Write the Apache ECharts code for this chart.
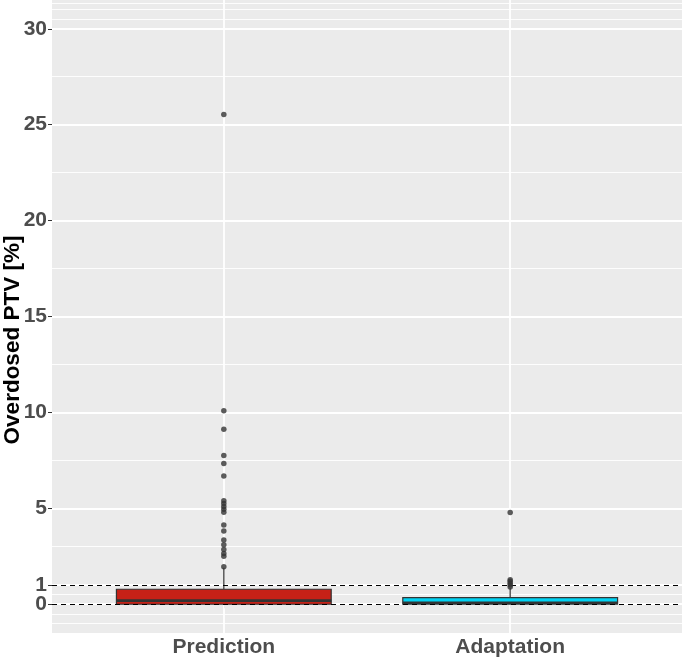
<!DOCTYPE html>
<html>
<head>
<meta charset="utf-8">
<script src="https://cdn.jsdelivr.net/npm/echarts@6/dist/echarts.min.js"></script>
<style>
html,body{margin:0;padding:0;background:#fff;}
#chart{width:682px;height:659px;}
</style>
</head>
<body>
<div id="chart"></div>
<script>
// ---- data ----
var categories = ['Prediction', 'Adaptation'];
var whiskerLow = [0, 0];
var q1 = [0, 0];
var median = [0.19, 0.08];
var q3 = [0.78, 0.34];
var whiskerHigh = [1.9, 0.84];
var predictionOutliers = [1.96, 2.5, 2.65, 2.85, 3.1, 3.35, 3.82, 4.13, 4.8, 4.95, 5.1, 5.25, 5.4, 6.69, 7.33, 7.75, 9.12, 10.09, 25.53];
var adaptationOutliers = [0.9, 1.0, 1.1, 1.2, 1.28, 4.78];
var yTicks = [0, 1, 5, 10, 15, 20, 25, 30];
var yMinorLines = [-1, -0.5, 0.5, 3, 7.5, 12.5, 17.5, 22.5, 27.5, 30.5, 31, 31.35];
var referenceLines = [0, 1];
var boxColors = ['#C62117', '#00D2F2'];

// ---- build ----
var catPos = categories.map(function (c, i) { return i + 1; });
var boxData = categories.map(function (c, i) {
  return [catPos[i], whiskerLow[i], q1[i], median[i], q3[i], whiskerHigh[i]];
});
var outlierData = [];
predictionOutliers.forEach(function (v) { outlierData.push([catPos[0], v]); });
adaptationOutliers.forEach(function (v) { outlierData.push([catPos[1], v]); });

// split ticks over two identical axes so that the close labels 0 and 1 are both kept
var yTicksA = yTicks.filter(function (v, i) { return i % 2 === 0; });
var yTicksB = yTicks.filter(function (v, i) { return i % 2 === 1; });

var gridLineData = [];
yMinorLines.forEach(function (v) { gridLineData.push({ yAxis: v, lineStyle: { color: '#ffffff', width: 0.9, type: 'solid' } }); });
yTicks.forEach(function (v) { gridLineData.push({ yAxis: v, lineStyle: { color: '#ffffff', width: 1.8, type: 'solid' } }); });
catPos.forEach(function (v) { gridLineData.push({ xAxis: v, lineStyle: { color: '#ffffff', width: 1.8, type: 'solid' } }); });

var chart = echarts.init(document.getElementById('chart'), null, { renderer: 'canvas' });
var labelFont = 'Liberation Sans, Arial, sans-serif';

function makeYAxis(ticks) {
  return {
    type: 'value', min: -1.5, max: 31.5, position: 'left', offset: 0,
    axisLine: { show: false },
    splitLine: { show: false },
    axisTick: { show: true, customValues: ticks, length: 4, lineStyle: { color: '#333333', width: 1 } },
    axisLabel: {
      customValues: ticks, margin: 5, hideOverlap: false,
      showMinLabel: true, showMaxLabel: true,
      fontFamily: labelFont, fontWeight: 'bold', fontSize: 21, color: '#4D4D4D'
    }
  };
}

chart.setOption({
  animation: false,
  backgroundColor: '#ffffff',
  grid: { left: 52, right: 0, top: 0, bottom: 26, show: true, backgroundColor: '#EBEBEB', borderWidth: 0 },
  xAxis: {
    type: 'value', min: 0.4, max: 2.6,
    axisLine: { show: false },
    splitLine: { show: false },
    axisTick: { show: true, customValues: catPos, length: 4, lineStyle: { color: '#333333', width: 1 } },
    axisLabel: {
      customValues: catPos, margin: 4, hideOverlap: false,
      formatter: function (v) { var i = Math.round(v) - 1; return categories[i] || ''; },
      fontFamily: labelFont, fontWeight: 'bold', fontSize: 21, color: '#4D4D4D'
    }
  },
  yAxis: [makeYAxis(yTicksA), makeYAxis(yTicksB)],
  graphic: [{
    type: 'text', x: 13, y: 340, rotation: Math.PI / 2,
    style: {
      text: 'Overdosed PTV [%]', fill: '#000000',
      font: 'bold 22.5px ' + labelFont,
      textAlign: 'center', textVerticalAlign: 'middle'
    }
  }],
  series: [
    {
      type: 'line', data: [], z: 1, silent: true,
      markLine: { z: 1, silent: true, symbol: 'none', label: { show: false }, data: gridLineData, animation: false }
    },
    {
      type: 'custom', z: 3, data: boxData,
      encode: { x: 0, y: [1, 2, 3, 4, 5] },
      renderItem: function (params, api) {
        var x = api.value(0);
        var lo = api.coord([x, api.value(1)]);
        var b1 = api.coord([x, api.value(2)]);
        var md = api.coord([x, api.value(3)]);
        var b3 = api.coord([x, api.value(4)]);
        var hi = api.coord([x, api.value(5)]);
        var w = api.size([0.75, 0])[0];
        var half = w / 2;
        return {
          type: 'group',
          children: [
            { type: 'line', shape: { x1: hi[0], y1: hi[1], x2: b3[0], y2: b3[1] }, style: { stroke: '#555555', lineWidth: 1.5 } },
            { type: 'line', shape: { x1: lo[0], y1: lo[1], x2: b1[0], y2: b1[1] }, style: { stroke: '#555555', lineWidth: 1.5 } },
            { type: 'rect', shape: { x: b3[0] - half, y: b3[1], width: w, height: b1[1] - b3[1] },
              style: { fill: boxColors[params.dataIndex], stroke: '#333333', lineWidth: 1.2 } },
            { type: 'line', shape: { x1: md[0] - half, y1: md[1], x2: md[0] + half, y2: md[1] }, style: { stroke: '#333333', lineWidth: 2.6 } }
          ]
        };
      }
    },
    {
      type: 'line', data: [], z: 4, silent: true,
      markLine: {
        z: 4, silent: true, symbol: 'none', label: { show: false }, animation: false,
        lineStyle: { color: '#000000', width: 1.1, type: [5, 4] },
        data: referenceLines.map(function (v) { return { yAxis: v }; })
      }
    },
    {
      type: 'scatter', z: 6, data: outlierData, symbol: 'circle', symbolSize: 5.5,
      itemStyle: { color: '#333333' }, clip: false
    }
  ]
});
</script>
</body>
</html>
